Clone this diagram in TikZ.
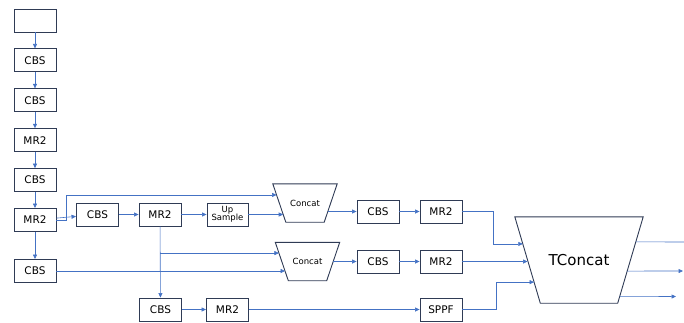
\documentclass[tikz,border=0pt]{standalone}
\usepackage{fontspec}
\setmainfont{DejaVu Sans}
\usetikzlibrary{positioning,arrows.meta,calc}
\definecolor{navy}{HTML}{2F3B55}
\definecolor{link}{HTML}{4472C4}

\begin{document}
\begin{tikzpicture}[x=1pt, y=-1pt, node distance=16pt and 21pt,
  blk/.style={draw=navy, line width=0.9pt, fill=white, minimum width=42pt, minimum height=23pt, inner sep=1pt, font=\fontsize{10.5}{11}\selectfont},
  cat/.style={minimum width=64pt, minimum height=38pt, inner sep=0pt, font=\fontsize{8.5}{9}\selectfont},
  edge/.style={draw=navy, line width=0.9pt, line join=miter},
  arr/.style={-{Triangle[length=4.5pt,width=4pt]}, line width=0.6pt, link},
  ln/.style={line width=0.6pt, link}]
  \useasboundingbox (0,0) rectangle (684,322);
  % backbone column
  \node[blk] (in) at (35,20.5) {};
  \node[blk, below=of in] (cbs1) {CBS};
  \node[blk, below=of cbs1] (cbs2) {CBS};
  \node[blk, below=of cbs2] (mr1) {MR2};
  \node[blk, below=of mr1] (cbs3) {CBS};
  \node[blk, below=of cbs3] (mr2) {MR2};
  \node[blk] (cbs4) at (35,271) {CBS};
  % middle row
  \node[blk] (cbs5) at (97.5,214.5) {CBS};
  \node[blk] (mr3) at (160,214.5) {MR2};
  \node[blk, minimum width=41pt, font=\fontsize{8.5}{9}\selectfont, align=center] (up) at (227.5,214.5) {Up\\[-1pt]Sample};
  \node[blk] (cbs6) at (160.5,309.5) {CBS};
  \node[blk] (mr4) at (227.5,309.5) {MR2};
  % concat stage
  \node[cat] (cat1) at (305,203) {Concat};
  \node[cat] (cat2) at (307.5,261.5) {Concat};
  \node[blk] (cbs7) at (378,211.5) {CBS};
  \node[blk] (mr5) at (441,211.5) {MR2};
  \node[blk] (cbs8) at (378,261.5) {CBS};
  \node[blk] (mr6) at (441,261.5) {MR2};
  \node[blk] (sppf) at (441,309.5) {SPPF};
  \node[cat, minimum width=128pt, minimum height=86pt, font=\fontsize{15}{16}\selectfont] (tc) at (579,260) {TConcat};
  \draw[edge] (cat1.north west) -- (cat1.north east) -- ([xshift=-13pt]cat1.south east) -- ([xshift=13pt]cat1.south west) -- cycle;
  \draw[edge] (cat2.north west) -- (cat2.north east) -- ([xshift=-13pt]cat2.south east) -- ([xshift=13pt]cat2.south west) -- cycle;
  \draw[edge] (tc.north west) -- (tc.north east) -- ([xshift=-25.5pt]tc.south east) -- ([xshift=25.5pt]tc.south west) -- cycle;
  \coordinate (o1) at (684,242);
  \coordinate (o2) at (683,271);
  \coordinate (o3) at (676,296.5);
  % links
  \draw[arr] (in) -- (cbs1); \draw[arr] (cbs1) -- (cbs2); \draw[arr] (cbs2) -- (mr1);
  \draw[arr] (mr1) -- (cbs3); \draw[arr] (cbs3) -- (mr2); \draw[arr] (mr2) -- (cbs4);
  \draw[arr] (mr2) -- (cbs5); \draw[arr] (cbs5) -- (mr3); \draw[arr] (mr3) -- (up);
  \draw[arr] (mr2.east) -- ++(10,0) |- ($(cat1.north west)!.29!(cat1.south west)+(3.8,0)$);
  \draw[arr] (up.east) -- (up.east -| {$(cat1.north west)!.8!(cat1.south west)+(10.4,0)$});
  \draw[arr] (mr3) -- (cbs6); \draw[arr] (cbs6) -- (mr4);
  \draw[arr] (mr3.south |- {$(cat2.north west)!.28!(cat2.south west)$}) -- ($(cat2.north west)!.28!(cat2.south west)+(3.6,0)$);
  \draw[arr] (cbs4.east) -- (cbs4.east -| {$(cat2.north west)!.75!(cat2.south west)+(9.75,0)$});
  \draw[arr] ($(cat1.north east)!.72!(cat1.south east)+(-9.4,0)$) -- (cbs7.west);
  \draw[arr] ([xshift=-6.5pt]cat2.east) -- (cbs8.west);
  \draw[arr] (cbs7) -- (mr5); \draw[arr] (cbs8) -- (mr6);
  \draw[arr] (mr4) -- (sppf);
  \draw[arr] (mr5.east) -| ($(mr5.east)+(31,0)$) |- ($(tc.north west)!.314!(tc.south west)+(8,0)$);
  \draw[arr] (mr6.east) -- (mr6.east -| {$(tc.north west)!.5!(tc.south west)+(12.75,0)$});
  \draw[arr] (sppf.east) -- ++(34,0) |- ($(tc.north west)!.756!(tc.south west)+(19.3,0)$);
  \draw[ln] ($(tc.north east)!.29!(tc.south east)+(-7.4,0)$) -- (o1);
  \draw[arr] ($(tc.north east)!.628!(tc.south east)+(-16,0)$) -- (o2);
  \draw[arr] ($(tc.north east)!.924!(tc.south east)+(-23.6,0)$) -- (o3);
\end{tikzpicture}
\end{document}
